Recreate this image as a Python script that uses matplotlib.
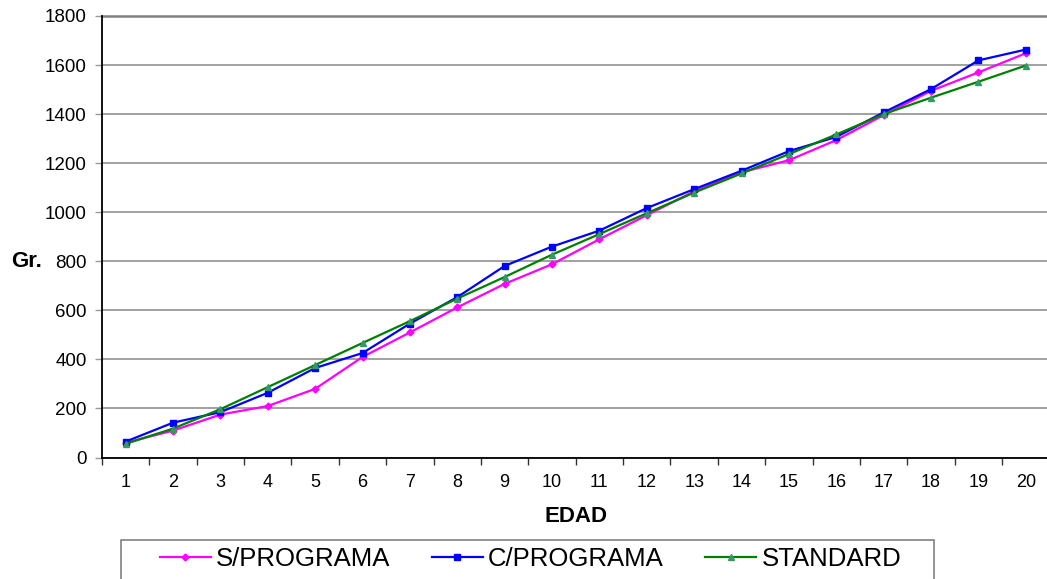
import matplotlib
matplotlib.use("Agg")
import matplotlib.pyplot as plt
from matplotlib.patches import Rectangle

plt.rcParams['font.family'] = ['Liberation Sans', 'DejaVu Sans']

# weight (g) by age
edad = list(range(1, 21))
s_programa = [60, 110, 175, 210, 280, 410, 510, 612, 708, 788,
              890, 988, 1085, 1163, 1212, 1294, 1396, 1495, 1570, 1648]
c_programa = [65, 142, 185, 264, 365, 426, 546, 654, 781, 860,
              925, 1017, 1094, 1169, 1249, 1307, 1407, 1502, 1619, 1663]
standard = [56, 118, 197, 287, 377, 467, 556, 648, 736, 827,
            911, 996, 1080, 1158, 1237, 1317, 1400, 1467, 1532, 1598]
y_ticks = list(range(0, 1801, 200))

fig = plt.figure(figsize=(10.47, 5.79), dpi=100)
ax = fig.add_axes([0.0974, 0.2098, 0.905, 0.7626])

ax.plot(edad, s_programa, color='#FF00FF', lw=1.6, marker='D', ms=3.5,
        label='S/PROGRAMA')
ax.plot(edad, c_programa, color='#0000FF', lw=1.6, marker='s', ms=5,
        label='C/PROGRAMA')
ax.plot(edad, standard, color='#008000', lw=1.6, marker='^', ms=5,
        mfc='#339966', mec='#339966', label='STANDARD')

ax.set_xlim(0.5, 20.5)
ax.set_ylim(0, 1800)
ax.set_yticks(y_ticks)
ax.yaxis.grid(True, color='#9a9a9a', lw=1.3)
ax.set_axisbelow(True)

# category axis: tick marks between ages, labels centred on them
ax.set_xticks([i + 0.5 for i in range(0, 21)])
ax.set_xticklabels([])
ax.set_xticks(edad, minor=True)
ax.set_xticklabels([str(e) for e in edad], minor=True, fontsize=13)
ax.tick_params(axis='x', which='major', length=5, width=1, color='#333333')
ax.tick_params(axis='x', which='minor', length=0, pad=12)
ax.tick_params(axis='y', length=5, width=1, color='#9a9a9a', labelsize=13.5, pad=6)

for side in ['top', 'right']:
    ax.spines[side].set_visible(False)
ax.spines['left'].set_linewidth(1.3)
ax.spines['bottom'].set_linewidth(1.3)
ax.axhline(1800, color='#808080', lw=1.8, clip_on=False)

ax.set_xlabel('EDAD', fontsize=16, fontweight='bold', labelpad=11)
fig.text(0.011, ax.transData.transform((0, 800))[1] / fig.bbox.height, 'Gr.',
         fontsize=16, fontweight='bold', va='center', ha='left',
         transform=fig.transFigure)

fig.patches.append(Rectangle((0.1156, -0.05), 0.7766, 0.1174, transform=fig.transFigure,
                             facecolor='white', edgecolor='#808080', lw=1.2))
fig.legend(loc='center', bbox_to_anchor=(0.5067, 0.0345), ncol=3, frameon=False,
           fontsize=18.5, handlelength=2.0, handletextpad=0.2, columnspacing=1.6)

fig.savefig('out.png', dpi=100)
